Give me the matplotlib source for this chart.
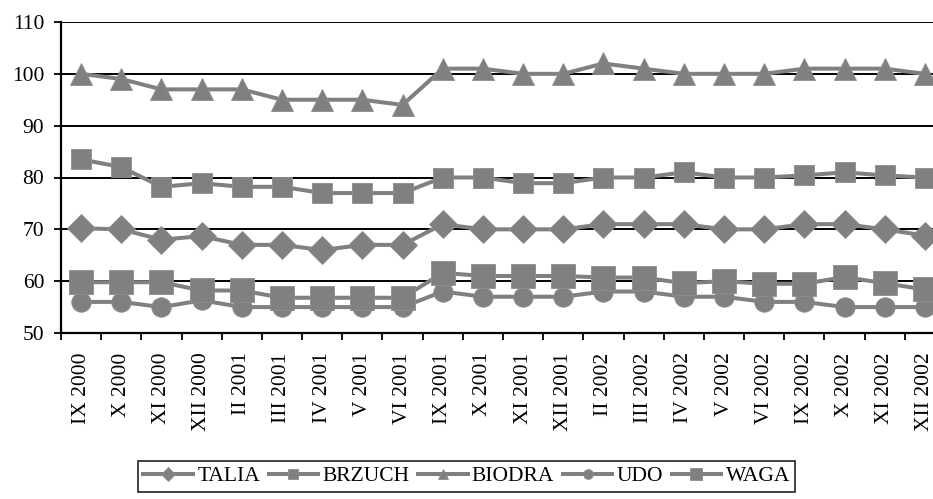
import matplotlib
matplotlib.use("Agg")
import matplotlib.pyplot as plt
from matplotlib.ticker import FixedLocator, NullFormatter
import numpy as np

plt.rcParams['font.family'] = ['Liberation Serif', 'DejaVu Serif']

months = ["IX 2000", "X 2000", "XI 2000", "XII 2000", "II 2001", "III 2001",
          "IV 2001", "V 2001", "VI 2001", "IX 2001", "X 2001", "XI 2001",
          "XII 2001", "II 2002", "III 2002", "IV 2002", "V 2002", "VI 2002",
          "IX 2002", "X 2002", "XI 2002", "XII 2002"]

talia = [70.2, 70, 68, 68.7, 67, 67, 66, 67, 67, 71, 70, 70,
         70, 71, 71, 71, 70, 70, 71, 71, 70, 68.8]
brzuch = [83.5, 82, 78.2, 78.9, 78.2, 78.2, 77, 77, 77, 80, 80, 78.9,
          78.9, 80, 80, 81, 80, 80, 80.4, 81, 80.4, 80]
biodra = [100, 99, 97, 97, 97, 95, 95, 95, 94, 101, 101, 100,
          100, 102, 101, 100, 100, 100, 101, 101, 101, 100]
udo = [56, 56, 55, 56.3, 55, 55, 55, 55, 55, 58, 57, 57,
       57, 58, 58, 57, 57, 56, 56, 55, 55, 55]
waga = [59.8, 59.8, 59.8, 58.2, 58.2, 56.8, 56.8, 56.8, 56.8, 61.6, 61, 61,
        61, 60.7, 60.7, 59.6, 60, 59.5, 59.5, 60.8, 59.6, 58.4]

series = [("TALIA", talia, "D", 14.5),
          ("BRZUCH", brzuch, "s", 15),
          ("BIODRA", biodra, "^", 15.5),
          ("UDO", udo, "o", 14),
          ("WAGA", waga, "s", 17)]

grey = "#808080"

fig = plt.figure(figsize=(9.33, 4.99), dpi=100)
# axes run a bit past the right edge of the figure
ax = fig.add_axes([61 / 933, 1 - 333 / 499, 884 / 933, 311 / 499])

x = np.arange(len(months))
for name, vals, mk, ms in series:
    ax.plot(x, vals, color=grey, lw=2.9, marker=mk, ms=ms,
            markerfacecolor=grey, markeredgecolor="#8c8c8c", markeredgewidth=0.6,
            label=name, clip_on=False, zorder=3)

ax.set_ylim(50, 110)
ax.set_yticks(np.arange(50, 111, 10))
ax.set_xlim(-0.5, len(months) - 0.5)

# category boundaries carry the tick marks, labels sit at the centres
ax.xaxis.set_major_locator(FixedLocator(np.arange(-0.5, len(months), 1.0)))
ax.xaxis.set_major_formatter(NullFormatter())
ax.xaxis.set_minor_locator(FixedLocator(x))
ax.set_xticklabels(months, minor=True, rotation=90, fontsize=15.5)
ax.tick_params(axis="x", which="minor", length=0, pad=14)
ax.tick_params(axis="x", which="major", length=5, width=1.3, direction="out")
ax.tick_params(axis="y", length=5, width=1.3, direction="out", labelsize=15.5, pad=7)

ax.yaxis.grid(True, color="black", lw=1.4)
ax.set_axisbelow(True)
for side in ["top", "right"]:
    ax.spines[side].set_visible(False)
for side in ["left", "bottom"]:
    ax.spines[side].set_linewidth(1.6)
    ax.spines[side].set_zorder(4)

leg = fig.legend(loc="upper left", bbox_to_anchor=(138 / 933, 1 - 461 / 499),
                 ncol=5, fontsize=15.5, frameon=True, fancybox=False,
                 edgecolor="black", markerscale=0.5, handlelength=2.3,
                 handletextpad=0.2, columnspacing=0.4, borderpad=0.25,
                 borderaxespad=0)
leg.get_frame().set_linewidth(1.3)

fig.savefig("out.png", dpi=100)
